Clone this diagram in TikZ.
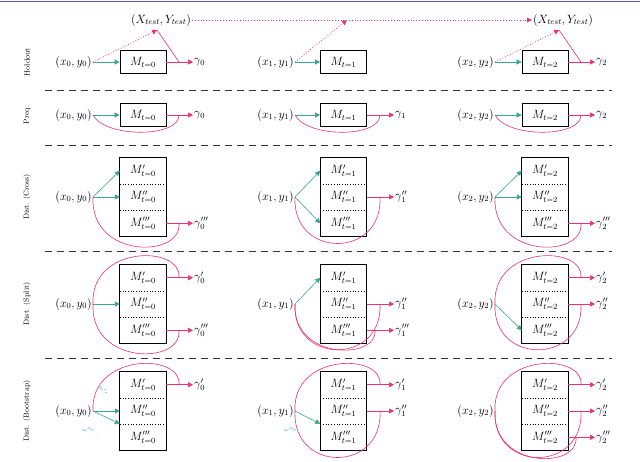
\documentclass[tikz,border=0pt]{standalone}
\usetikzlibrary{arrows.meta}
\definecolor{pk}{HTML}{E8336D}
\definecolor{tl}{HTML}{3AA68F}
\begin{document}
\begin{tikzpicture}[x=1pt,y=-1pt,
  every node/.style={font=\fontsize{12}{14}\selectfont,inner sep=1pt},
  box/.style={draw,line width=0.7pt,minimum width=46pt,minimum height=23pt,inner sep=0pt},
  part/.style={minimum width=46pt,minimum height=26.3pt,inner sep=0pt},
  ga/.style={pk,line width=0.6pt,-{Triangle[length=5pt,width=5pt]}},
  pl/.style={pk,line width=0.6pt},
  gr/.style={tl,line width=0.6pt,-{Triangle[length=5pt,width=5pt]}},
  sep/.style={dash pattern=on 7pt off 5pt,line width=0.8pt,black!80},
  rl/.style={rotate=90,font=\fontsize{7.5}{9}\selectfont},
  om/.style={tl,font=\fontsize{6.5}{8}\selectfont,inner sep=0pt}]
\useasboundingbox (0,0) rectangle (640,461);
\draw[blue!30!gray,line width=0.6pt] (0,1) -- (640,1);
\newcommand\mytri[4]{%
  \node[part] (#1a) at (#2,#3-26.3) {$M'_{t=#4}$};
  \node[part] (#1b) at (#2,#3) {$M''_{t=#4}$};
  \node[part] (#1c) at (#2,#3+26.3) {$M'''_{t=#4}$};
  \draw[line width=0.7pt] (#1a.north west) rectangle (#1c.south east);
  \draw[dotted,line width=0.7pt] (#1a.south west) -- (#1a.south east);
  \draw[dotted,line width=0.7pt] (#1b.south west) -- (#1b.south east);}
% separators
\foreach \y in {90,145,251,358} \draw[sep] (45,\y) -- (612,\y);
% row labels
\node[rl] (r1) at (27,62) {Holdout};
\node[rl] (r2) at (27,115) {Preq.};
\node[rl] (r3) at (27,197) {Dist. (Cross)};
\node[rl] (r4) at (27,304) {Dist. (Split)};
\node[rl] (r5) at (27,411) {Dist. (Bootstrap)};
% ---------- Holdout
\node (xt0) at (161,20) {$(X_{test},Y_{test})$};
\node (xt2) at (563,20) {$(X_{test},Y_{test})$};
\node[anchor=east] (h0) at (93,62) {$(x_0,y_0)$};
\node[anchor=east] (h1) at (295,62) {$(x_1,y_1)$};
\node[anchor=east] (h2) at (495,62) {$(x_2,y_2)$};
\node[box] (hm0) at (143,62) {$M_{t=0}$};
\node[box] (hm1) at (343.5,62) {$M_{t=1}$};
\node[box] (hm2) at (545,62) {$M_{t=2}$};
\node[anchor=west] (hg0) at (193,62) {$\gamma_0$};
\node[anchor=west] (hg2) at (595,62) {$\gamma_2$};
\coordinate (hx0) at (157,30);
\coordinate (hx1) at (347,20);
\coordinate (hx2) at (559,30);
\draw[gr] (h0) -- (hm0); \draw[gr] (h1) -- (hm1); \draw[gr] (h2) -- (hm2);
\draw[ga] (hm0) -- (hg0); \draw[ga] (hm2) -- (hg2);
\draw[pk,dotted,line width=0.8pt,-{Triangle[length=5pt,width=5pt]}] (h0.east) -- (hx0);
\draw[pk,dotted,line width=0.8pt,-{Triangle[length=5pt,width=5pt]}] (h1.east) -- (hx1);
\draw[pk,dotted,line width=0.8pt,-{Triangle[length=5pt,width=5pt]}] (h2.east) -- (hx2);
\draw[pk,dotted,line width=0.8pt,-{Triangle[length=5pt,width=5pt]}] (xt0.east) -- (xt2.west);
\draw[pl] (hx0) -- (179,62); \draw[pl] (hx2) -- (581,62);
% ---------- Preq
\node[anchor=east] (p0) at (93,115) {$(x_0,y_0)$};
\node[anchor=east] (p1) at (295,115) {$(x_1,y_1)$};
\node[anchor=east] (p2) at (495,115) {$(x_2,y_2)$};
\node[box] (pm0) at (143,115) {$M_{t=0}$};
\node[box] (pm1) at (343.5,115) {$M_{t=1}$};
\node[box] (pm2) at (545,115) {$M_{t=2}$};
\node[anchor=west] (pg0) at (193,115) {$\gamma_0$};
\node[anchor=west] (pg1) at (394,115) {$\gamma_1$};
\node[anchor=west] (pg2) at (595,115) {$\gamma_2$};
\foreach \i in {0,1,2} {\draw[gr] (p\i) -- (pm\i); \draw[ga] (pm\i) -- (pg\i);}
\draw[pl] (p0.east) .. controls +(12,23) and +(0,23) .. (179,115);
\draw[pl] (p1.east) .. controls +(12,23) and +(0,23) .. (380,115);
\draw[pl] (p2.east) .. controls +(12,23) and +(0,23) .. (581,115);
% ---------- Cross
\node[anchor=east] (c0) at (93,197) {$(x_0,y_0)$};
\node[anchor=east] (c1) at (295,197) {$(x_1,y_1)$};
\node[anchor=east] (c2) at (495,197) {$(x_2,y_2)$};
\mytri{cm0}{143}{197}{0}
\mytri{cm1}{343.5}{197}{1}
\mytri{cm2}{545}{197}{2}
\node[anchor=west] (cg0) at (193,223.3) {$\gamma_0'''$};
\node[anchor=west] (cg1) at (394,197) {$\gamma_1''$};
\node[anchor=west] (cg2) at (595,223.3) {$\gamma_2'''$};
\draw[gr] (c0.east) -- (cm0a.west); \draw[gr] (c0.east) -- (cm0b.west);
\draw[gr] (c1.east) -- (cm1a.west); \draw[gr] (c1.east) -- (cm1c.west);
\draw[gr] (c2.east) -- (cm2a.west); \draw[gr] (c2.east) -- (cm2b.west);
\draw[ga] (cm0c.east) -- (cg0.west); \draw[ga] (cm1b.east) -- (cg1.west); \draw[ga] (cm2c.east) -- (cg2.west);
\draw[pl] (c0.east) .. controls +(-3,62) and +(3,35) .. (179,223.3);
\draw[pl] (c1.east) .. controls +(-3,62) and +(3,62) .. (380,197);
\draw[pl] (c2.east) .. controls +(-3,62) and +(3,35) .. (581,223.3);
% ---------- Split
\node[anchor=east] (s0) at (93,304) {$(x_0,y_0)$};
\node[anchor=east] (s1) at (295,304) {$(x_1,y_1)$};
\node[anchor=east] (s2) at (495,304) {$(x_2,y_2)$};
\mytri{sm0}{143}{304}{0}
\mytri{sm1}{343.5}{304}{1}
\mytri{sm2}{545}{304}{2}
\node[anchor=west] (sg0a) at (193,277.7) {$\gamma_0'$};
\node[anchor=west] (sg0c) at (193,330.3) {$\gamma_0'''$};
\node[anchor=west] (sg1b) at (394,304) {$\gamma_1''$};
\node[anchor=west] (sg1c) at (394,330.3) {$\gamma_1'''$};
\node[anchor=west] (sg2a) at (595,277.7) {$\gamma_2'$};
\node[anchor=west] (sg2b) at (595,304) {$\gamma_2''$};
\draw[gr] (s0.east) -- (sm0b.west);
\draw[gr] (s1.east) -- (sm1a.west);
\draw[gr] (s2.east) -- (sm2c.west);
\draw[ga] (sm0a.east) -- (sg0a.west); \draw[ga] (sm0c.east) -- (sg0c.west);
\draw[ga] (sm1b.east) -- (sg1b.west); \draw[ga] (sm1c.east) -- (sg1c.west);
\draw[ga] (sm2a.east) -- (sg2a.west); \draw[ga] (sm2b.east) -- (sg2b.west);
\draw[pl] (s0.east) .. controls +(-3,-59) and +(3,-33) .. (179,277.7);
\draw[pl] (s0.east) .. controls +(-3,61) and +(3,35) .. (179,330.3);
\draw[pl] (s1.east) .. controls +(-3,61) and +(3,61) .. (380,304);
\draw[pl] (s1.east) .. controls +(-3,56) and +(3,30) .. (375,330.3);
\draw[pl] (s2.east) .. controls +(-3,-59) and +(3,-33) .. (581,277.7);
\draw[pl] (s2.east) .. controls +(-3,61) and +(3,61) .. (581,304);
% ---------- Bootstrap
\node[anchor=east] (b0) at (93,411) {$(x_0,y_0)$};
\node[anchor=east] (b1) at (295,411) {$(x_1,y_1)$};
\node[anchor=east] (b2) at (495,411) {$(x_2,y_2)$};
\mytri{bm0}{143}{411}{0}
\mytri{bm1}{343.5}{411}{1}
\mytri{bm2}{545}{411}{2}
\node[anchor=west] (bg0a) at (193,384.7) {$\gamma_0'$};
\node[anchor=west] (bg1a) at (394,384.7) {$\gamma_1'$};
\node[anchor=west] (bg1b) at (394,411) {$\gamma_1''$};
\node[anchor=west] (bg2a) at (595,384.7) {$\gamma_2'$};
\node[anchor=west] (bg2b) at (595,411) {$\gamma_2''$};
\node[anchor=west] (bg2c) at (595,437.3) {$\gamma_2'''$};
\draw[gr] (b0.east) -- (bm0b.west); \draw[gr] (b0.east) -- (bm0c.north west);
\draw[gr] (b1.east) -- (bm1c.north west);
\node[om,rotate=-70] (w0a) at (104,391) {$\omega''.$};
\node[om,rotate=-20] (w0b) at (91,431) {$\omega'''.\,.$};
\node[om,rotate=-20] (w1c) at (293,431) {$\omega'''.\,.$};
\draw[ga] (bm0a.east) -- (bg0a.west);
\draw[ga] (bm1a.east) -- (bg1a.west); \draw[ga] (bm1b.east) -- (bg1b.west);
\draw[ga] (bm2a.east) -- (bg2a.west); \draw[ga] (bm2b.east) -- (bg2b.west); \draw[ga] (bm2c.east) -- (bg2c.west);
\draw[pl] (b0.east) .. controls +(-3,-58) and +(3,-32) .. (179,384.7);
\draw[pl] (b1.east) .. controls +(-3,-58) and +(3,-32) .. (380,384.7);
\draw[pl] (b1.east) .. controls +(-3,62) and +(3,62) .. (380,411);
\draw[pl] (b2.east) .. controls +(-3,-58) and +(3,-32) .. (581,384.7);
\draw[pl] (b2.east) .. controls +(-3,62) and +(3,62) .. (581,411);
\draw[pl] (b2.east) .. controls +(-3,58) and +(3,32) .. (576,437.3);
\end{tikzpicture}
\end{document}
